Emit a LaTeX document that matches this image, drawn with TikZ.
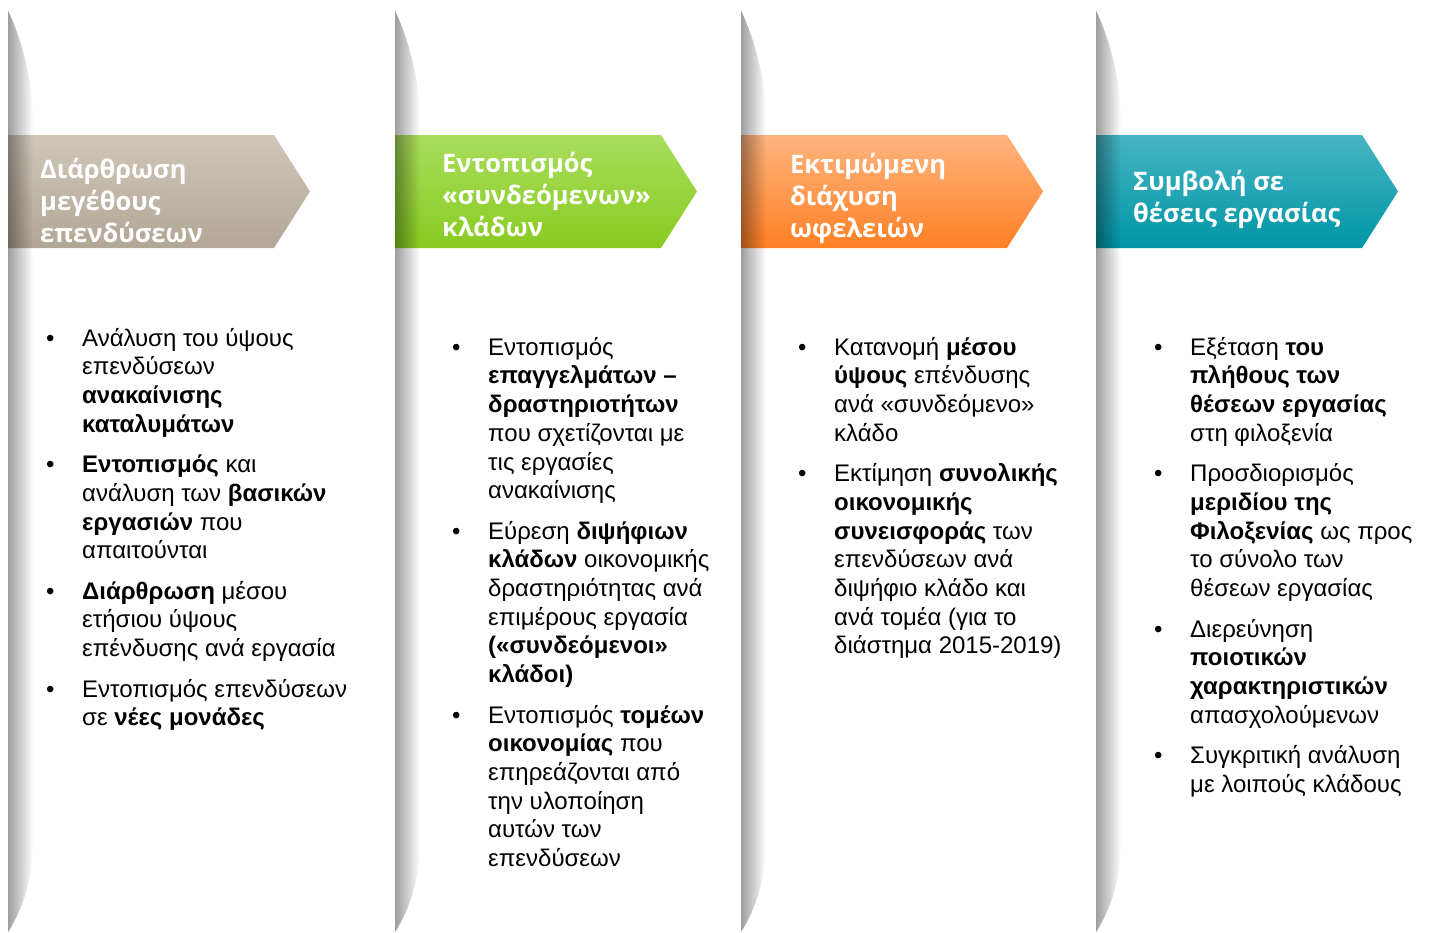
\documentclass[tikz,border=0pt]{standalone}
\usepackage{fontspec}
\setmainfont{Liberation Sans}
\newfontfamily\headfont{Open Sans}
\usepackage{tikz}
\usetikzlibrary{positioning,fadings}

\definecolor{sandtop}{HTML}{D0C7B9}
\definecolor{sandbot}{HTML}{B2A796}
\definecolor{greentop}{HTML}{A9DD5D}
\definecolor{greenbot}{HTML}{88CB21}
\definecolor{orangetop}{HTML}{FFB47F}
\definecolor{orangebot}{HTML}{FF8024}
\definecolor{tealtop}{HTML}{47B4C3}
\definecolor{tealbot}{HTML}{0096A6}

% bullet + lines of one list entry
\newcommand{\bitem}[1]{\begin{tabular}[t]{@{}p{36pt}@{}l@{}}\textbullet&\begin{tabular}[t]{@{}l@{}}#1\end{tabular}\end{tabular}}

\begin{document}
\begin{tikzpicture}[x=1pt,y=-1pt,
		shadowband/.style={fill=black,fill opacity=.38,path fading=east},
		headtxt/.style={anchor=west,align=left,inner sep=0pt,text=white,
			font=\headfont\bfseries\fontsize{25.5}{32}\selectfont},
		itm/.style={anchor=north west,inner sep=0pt,
			font=\fontsize{24}{28.7}\selectfont}]
	\useasboundingbox (0,0) rectangle (1429,932);

	% header arrows
	\foreach \x/\c in {8/sand,395/green,741/orange,1096/teal}
	{
		\shade[top color=\c top,bottom color=\c bot]
			(\x,135) -- ++(266,0) -- ++(36,56.5) -- ++(-36,56.5) -- ++(-266,0) -- cycle;
	}

	% curved shadow on the left of each column
	\foreach \x in {8,395,741,1096}
	{
		\fill[shadowband] (\x,10) .. controls (\x+14,40) and (\x+25,80) .. (\x+25,120)
			-- (\x+25,840) .. controls (\x+25,880) and (\x+14,910) .. (\x,932) -- cycle;
	}

	\node[headtxt] (t1) at (40,200) {Διάρθρωση\\μεγέθους\\επενδύσεων};
	\node[headtxt] (t2) at (442,194) {Εντοπισμός\\«συνδεόμενων»\\κλάδων};
	\node[headtxt] (t3) at (790,198) {Εκτιμώμενη\\διάχυση\\ωφελειών};
	\node[headtxt] (t4) at (1133,199) {Συμβολή σε\\θέσεις εργασίας};

	% column 1
	\node[itm] (a1) at (46,326) {\bitem{Ανάλυση του ύψους\\επενδύσεων\\\textbf{ανακαίνισης}\\\textbf{καταλυμάτων}}};
	\node[below=11.3pt of a1.south west,itm] (a2) {\bitem{\textbf{Εντοπισμός} και\\ανάλυση των \textbf{βασικών}\\\textbf{εργασιών} που\\απαιτούνται}};
	\node[below=11.3pt of a2.south west,itm] (a3) {\bitem{\textbf{Διάρθρωση} μέσου\\ετήσιου ύψους\\επένδυσης ανά εργασία}};
	\node[below=11.3pt of a3.south west,itm] (a4) {\bitem{Εντοπισμός επενδύσεων\\σε \textbf{νέες μονάδες}}};

	% column 2
	\node[itm] (b1) at (452,335) {\bitem{Εντοπισμός\\\textbf{επαγγελμάτων –}\\\textbf{δραστηριοτήτων}\\που σχετίζονται με\\τις εργασίες\\ανακαίνισης}};
	\node[below=11.3pt of b1.south west,itm] (b2) {\bitem{Εύρεση \textbf{διψήφιων}\\\textbf{κλάδων} οικονομικής\\δραστηριότητας ανά\\επιμέρους εργασία\\\textbf{(«συνδεόμενοι»}\\\textbf{κλάδοι)}}};
	\node[below=11.3pt of b2.south west,itm] (b3) {\bitem{Εντοπισμός \textbf{τομέων}\\\textbf{οικονομίας} που\\επηρεάζονται από\\την υλοποίηση\\αυτών των\\επενδύσεων}};

	% column 3
	\node[itm] (c1) at (798,335) {\bitem{Κατανομή \textbf{μέσου}\\\textbf{ύψους} επένδυσης\\ανά «συνδεόμενο»\\κλάδο}};
	\node[below=11.3pt of c1.south west,itm] (c2) {\bitem{Εκτίμηση \textbf{συνολικής}\\\textbf{οικονομικής}\\\textbf{συνεισφοράς} των\\επενδύσεων ανά\\διψήφιο κλάδο και\\ανά τομέα (για το\\διάστημα 2015-2019)}};

	% column 4
	\node[itm] (d1) at (1154,335) {\bitem{Εξέταση \textbf{του}\\\textbf{πλήθους των}\\\textbf{θέσεων εργασίας}\\στη φιλοξενία}};
	\node[below=11.3pt of d1.south west,itm] (d2) {\bitem{Προσδιορισμός\\\textbf{μεριδίου της}\\\textbf{Φιλοξενίας} ως προς\\το σύνολο των\\θέσεων εργασίας}};
	\node[below=11.3pt of d2.south west,itm] (d3) {\bitem{Διερεύνηση\\\textbf{ποιοτικών}\\\textbf{χαρακτηριστικών}\\απασχολούμενων}};
	\node[below=11.3pt of d3.south west,itm] (d4) {\bitem{Συγκριτική ανάλυση\\με λοιπούς κλάδους}};
\end{tikzpicture}
\end{document}
